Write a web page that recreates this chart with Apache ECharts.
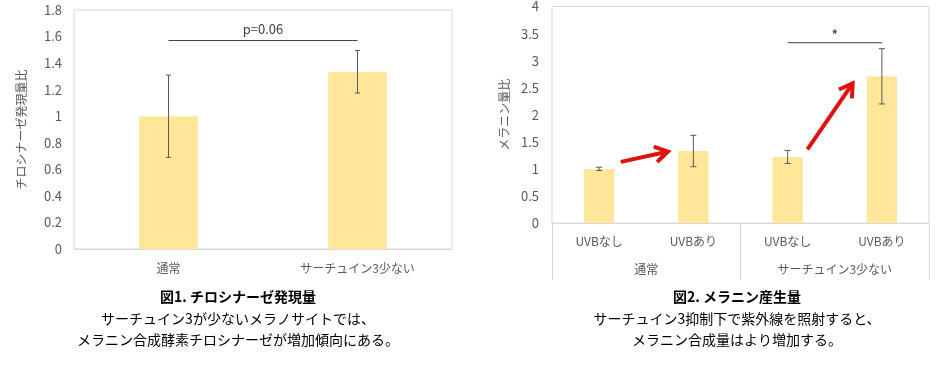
<!DOCTYPE html>
<html><head><meta charset="utf-8">
<script src="https://cdn.jsdelivr.net/npm/echarts@6/dist/echarts.min.js"></script>
<style>html,body{margin:0;padding:0;background:#fff}#c{width:952px;height:370px}</style>
</head><body><div id="c"></div>
<script>
// ---- Chart 1 data ----
const cats1 = ['通常', 'サーチュイン3少ない'];
const vals1 = [1.0, 1.335];
const err1 = [0.31, 0.16];
const yMin1 = 0, yMax1 = 1.8, yStep1 = 0.2;
const yName1 = 'チロシナーゼ発現量比';
const sig1 = [0, 1, 1.57, 'p=0.06'];

// ---- Chart 2 data ----
const cats2 = ['UVBなし', 'UVBあり', 'UVBなし', 'UVBあり'];
const groups2 = ['通常', 'サーチュイン3少ない'];
const vals2 = [1.0, 1.33, 1.22, 2.71];
const err2 = [0.03, 0.29, 0.12, 0.51];
const yMin2 = 0, yMax2 = 4, yStep2 = 0.5;
const yName2 = 'メラニン量比';
const sig2 = [2, 3, 3.33, '*'];
// arrows: [x0, y0, x1, y1] in category-slot units (0..4) and values
const arrows2 = [[0.73, 1.13, 1.23, 1.32], [2.71, 1.36, 3.19, 2.58]];

// ---- Captions ----
const cap1 = ['図1. チロシナーゼ発現量', 'サーチュイン3が少ないメラノサイトでは、', 'メラニン合成酵素チロシナーゼが増加傾向にある。'];
const cap2 = ['図2. メラニン産生量', 'サーチュイン3抑制下で紫外線を照射すると、', 'メラニン合成量はより増加する。'];

const FONT = '"Noto Sans CJK JP", "Noto Sans", sans-serif';
const LABEL = '#595959';
const BAR = '#FFE699';
const GRIDLINE = '#D9D9D9';

function errData(v, e) { return v.map((x, i) => [i, x - e[i], x + e[i]]); }

function errRender(capW) {
  return function (params, api) {
    const lo = api.coord([api.value(0), api.value(1)]);
    const hi = api.coord([api.value(0), api.value(2)]);
    const st = { stroke: '#595959', lineWidth: 1 };
    return { type: 'group', children: [
      { type: 'line', shape: { x1: lo[0], y1: lo[1], x2: hi[0], y2: hi[1] }, style: st },
      { type: 'line', shape: { x1: lo[0] - capW, y1: lo[1], x2: lo[0] + capW, y2: lo[1] }, style: st },
      { type: 'line', shape: { x1: hi[0] - capW, y1: hi[1], x2: hi[0] + capW, y2: hi[1] }, style: st }
    ]};
  };
}

const sigLabels = {};
const sigFont = {};
function sigRender(params, api) {
  const a = api.coord([api.value(0), api.value(2)]);
  const b = api.coord([api.value(1), api.value(2)]);
  const txt = sigLabels[params.seriesIndex];
  return { type: 'group', children: [
    { type: 'line', shape: { x1: a[0], y1: a[1], x2: b[0], y2: b[1] }, style: { stroke: '#404040', lineWidth: 1 } },
    { type: 'text', x: (a[0] + b[0]) / 2, y: a[1] - sigFont[params.seriesIndex][1], style: { text: txt, textAlign: 'center', textVerticalAlign: 'bottom', fill: '#404040', font: sigFont[params.seriesIndex][0] + 'px ' + FONT } }
  ]};
}

function arrowRender(params, api) {
  const p0 = api.coord([api.value(0), api.value(1)]);
  const p1 = api.coord([api.value(2), api.value(3)]);
  const ang = Math.atan2(p1[1] - p0[1], p1[0] - p0[0]);
  const L = 15, spread = 0.55;
  const h1 = [p1[0] - L * Math.cos(ang - spread), p1[1] - L * Math.sin(ang - spread)];
  const h2 = [p1[0] - L * Math.cos(ang + spread), p1[1] - L * Math.sin(ang + spread)];
  const st = { stroke: '#E0120F', lineWidth: 4, lineCap: 'butt', lineJoin: 'miter', fill: null };
  return { type: 'group', children: [
    { type: 'line', shape: { x1: p0[0], y1: p0[1], x2: p1[0] - 3 * Math.cos(ang), y2: p1[1] - 3 * Math.sin(ang) }, style: st },
    { type: 'polyline', shape: { points: [h1, p1, h2] }, style: st }
  ]};
}

const axisLabelStyle = { color: LABEL, fontFamily: FONT, fontSize: 13 };

const option = {
  animation: false,
  grid: [
    { left: 74, top: 10, width: 378, height: 239, show: true, borderColor: GRIDLINE, borderWidth: 1 },
    { left: 552, top: 6, width: 377, height: 217, show: true, borderColor: GRIDLINE, borderWidth: 1 }
  ],
  xAxis: [
    { gridIndex: 0, type: 'category', data: cats1, axisLine: { lineStyle: { color: GRIDLINE } }, axisTick: { show: false },
      axisLabel: Object.assign({}, axisLabelStyle, { margin: 13, fontSize: 12 }) },
    { gridIndex: 1, type: 'category', data: cats2, axisLine: { lineStyle: { color: GRIDLINE } }, axisTick: { show: false },
      axisLabel: Object.assign({}, axisLabelStyle, { margin: 12, fontSize: 12 }) },
    { gridIndex: 1, type: 'category', data: groups2, position: 'bottom', axisLine: { show: false },
      axisTick: { show: true, alignWithLabel: false, length: 57, lineStyle: { color: GRIDLINE } },
      axisLabel: Object.assign({}, axisLabelStyle, { margin: 40, fontSize: 12 }) },
    { gridIndex: 1, type: 'value', min: 0, max: cats2.length, show: false }
  ],
  yAxis: [
    { gridIndex: 0, type: 'value', min: yMin1, max: yMax1, interval: yStep1, splitLine: { show: false },
      axisLine: { show: false }, axisTick: { show: false }, axisLabel: Object.assign({ margin: 12 }, axisLabelStyle),
      name: yName1, nameLocation: 'middle', nameGap: 47, nameRotate: 90,
      nameTextStyle: { color: LABEL, fontFamily: FONT, fontSize: 12 } },
    { gridIndex: 1, type: 'value', min: yMin2, max: yMax2, interval: yStep2, splitLine: { show: false },
      axisLine: { show: false }, axisTick: { show: false }, axisLabel: Object.assign({ margin: 13 }, axisLabelStyle),
      name: yName2, nameLocation: 'middle', nameGap: 42, nameRotate: 90,
      nameTextStyle: { color: LABEL, fontFamily: FONT, fontSize: 12 } }
  ],
  series: [
    { type: 'bar', xAxisIndex: 0, yAxisIndex: 0, data: vals1, barWidth: '31%', itemStyle: { color: BAR } },
    { type: 'custom', xAxisIndex: 0, yAxisIndex: 0, data: errData(vals1, err1), renderItem: errRender(2.5), z: 5 },
    { type: 'custom', xAxisIndex: 0, yAxisIndex: 0, data: [sig1.slice(0, 3)], renderItem: sigRender, z: 5 },
    { type: 'bar', xAxisIndex: 1, yAxisIndex: 1, data: vals2, barWidth: '32%', itemStyle: { color: BAR } },
    { type: 'custom', xAxisIndex: 1, yAxisIndex: 1, data: errData(vals2, err2), renderItem: errRender(3), z: 5 },
    { type: 'custom', xAxisIndex: 1, yAxisIndex: 1, data: [sig2.slice(0, 3)], renderItem: sigRender, z: 5 },
    { type: 'custom', xAxisIndex: 3, yAxisIndex: 1, data: arrows2, renderItem: arrowRender, z: 6,
      encode: { x: [0, 2], y: [1, 3] } }
  ],
  graphic: []
};
sigLabels[2] = sig1[3]; sigFont[2] = [13, 5];
sigLabels[5] = sig2[3]; sigFont[5] = [15, 0];

function caption(lines, cx) {
  return [
    { type: 'text', x: cx, y: 297, style: { text: lines[0], textAlign: 'center', textVerticalAlign: 'middle', fill: '#000', font: 'bold 14px ' + FONT } },
    { type: 'text', x: cx, y: 319, style: { text: lines[1], textAlign: 'center', textVerticalAlign: 'middle', fill: '#000', font: '14px ' + FONT } },
    { type: 'text', x: cx, y: 340, style: { text: lines[2], textAlign: 'center', textVerticalAlign: 'middle', fill: '#000', font: '14px ' + FONT } }
  ];
}
option.graphic = caption(cap1, 238).concat(caption(cap2, 737));

const chart = echarts.init(document.getElementById('c'));
chart.setOption(option);
</script></body></html>
